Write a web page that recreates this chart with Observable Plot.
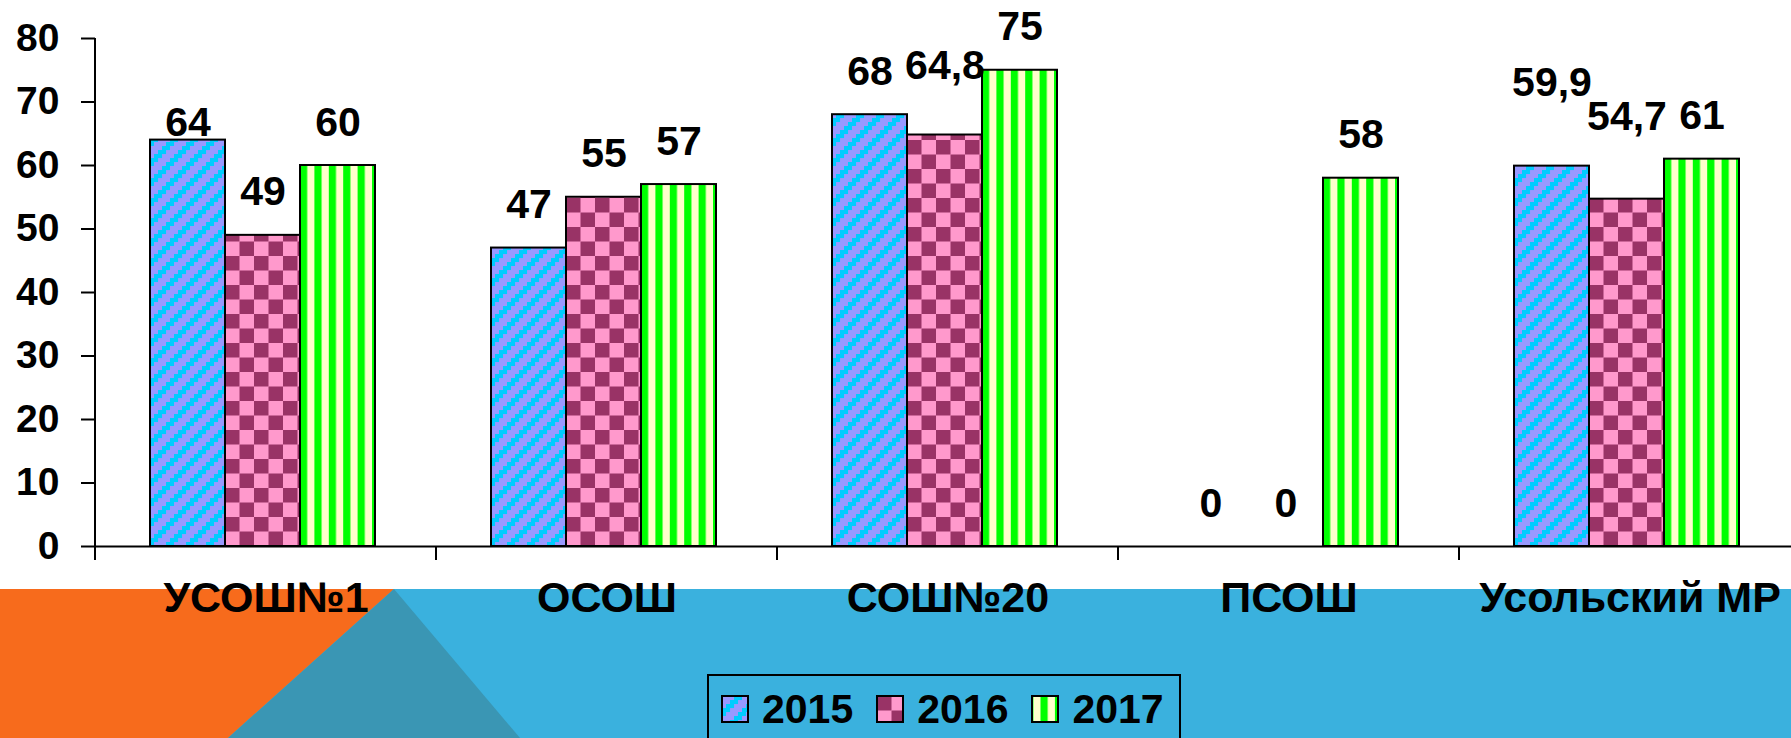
<!DOCTYPE html>
<html>
<head>
<meta charset="utf-8">
<script src="https://cdn.jsdelivr.net/npm/d3@7"></script>
<script src="https://cdn.jsdelivr.net/npm/@observablehq/plot@0.6"></script>
<style>
  html, body { margin: 0; padding: 0; background: #fff; overflow: hidden; }
  #page { position: relative; width: 1791px; height: 738px; overflow: hidden;
          font-family: "Liberation Sans", Arial, sans-serif; }
  .band { position: absolute; left: 0; top: 589px; width: 1791px; height: 149px; }
  #b-blue { background: #3AB1DE; }
  #b-orange { background: #F76B1C; clip-path: polygon(0 0, 394px 0, 228px 149px, 0 149px); }
  #b-teal { background: #3A96B4; clip-path: polygon(394px 0, 520px 149px, 228px 149px); }
  #chart { position: absolute; left: 0; top: 0; }
  #legend { position: absolute; left: 707px; top: 674px; width: 474px; height: 110px;
            border: 2px solid #000; box-sizing: border-box; display: flex;
            padding: 9px 0 0 12px; align-items: flex-start; }
  .item { display: flex; align-items: center; height: 48px; }
  .item svg { display: block; }
  .item span { font-size: 41px; font-weight: bold; line-height: 48px; color: #000; margin-left: 13px; }
  .item + .item { margin-left: 23px; }
  #chart g[aria-label="y-axis tick"] path, #chart .tick line { stroke-width: 2px; stroke: #000; }
</style>
</head>
<body>
<div id="page">
  <div class="band" id="b-blue"></div>
  <div class="band" id="b-orange"></div>
  <div class="band" id="b-teal"></div>
  <div id="chart"></div>
  <div id="legend"></div>
</div>
<script>
// ---- data ----
const categories = ["УСОШ№1", "ОСОШ", "СОШ№20", "ПСОШ", "Усольский МР"];
const years = ["2015", "2016", "2017"];
const values2015 = [64, 47, 68, 0, 59.9];
const values2016 = [49, 55, 64.8, 0, 54.7];
const values2017 = [60, 57, 75, 58, 61];
const yTicks = [0, 10, 20, 30, 40, 50, 60, 70, 80];

// ---- style / layout ----
const patternColors = {
  "2015": {bg: "#9999FF", fg: "#00CCFF"},
  "2016": {bg: "#FF99CC", fg: "#993366"},
  "2017": {bg: "#FFFFCC", fg: "#00FF00"}
};
const labelDy = -43;
// extra vertical nudges of a few value labels (px), as in the original layout
const labelNudge = {"УСОШ№1|2015": 26, "СОШ№20|2016": -26, "Усольский МР|2015": -40, "Усольский МР|2016": -39};

const seriesValues = {"2015": values2015, "2016": values2016, "2017": values2017};
const rows = categories.flatMap((cat, i) => years.map(year => ({cat, year, value: seriesValues[year][i]})));
const fmt = v => String(v).replace(".", ",");

const labelGroups = d3.group(rows, r => labelNudge[r.cat + "|" + r.year] ?? 0);
const labelMarks = Array.from(labelGroups, ([nudge, rs]) =>
  Plot.text(rs, {fx: "cat", x: "year", y: "value", text: d => fmt(d.value),
                 dy: labelDy + nudge, fontSize: 41, fontWeight: "bold"}));

const plot = Plot.plot({
  width: 1791,
  height: 674,
  marginLeft: 93,
  marginRight: -10,
  marginTop: 38,
  marginBottom: 128,
  style: {background: "none", overflow: "hidden", maxWidth: "none", color: "#000",
          fontFamily: "Liberation Sans, Arial, sans-serif", fontSize: "39px", fontWeight: "bold"},
  fx: {domain: categories, padding: 0, axis: null},
  x: {domain: years, paddingInner: 0, paddingOuter: 0.75, align: 0.474, axis: null},
  y: {domain: [0, 80], ticks: yTicks, tickSize: 14, tickPadding: 22, label: null, grid: false},
  color: {domain: years, range: years.map(y => `url(#pat${y})`)},
  marks: [
    Plot.barY(rows, {fx: "cat", x: "year", y: "value", fill: "year", stroke: "#000", strokeWidth: 2}),
    Plot.ruleY([0], {stroke: "#000", strokeWidth: 2}),
    ...labelMarks,
    Plot.text(categories, {fx: d => d, text: d => d, frameAnchor: "bottom", dy: 65,
                           fontSize: 43, fontWeight: "bold"})
  ]
});
document.getElementById("chart").appendChild(plot);

// ---- patterns ----
function fillPattern(p, year) {
  const c = patternColors[year];
  if (year === "2015") {
    const n = 5, u = 4, s = n * u;
    p.attr("width", s).attr("height", s);
    p.append("rect").attr("width", s).attr("height", s).attr("fill", c.bg);
    for (let r = 0; r < n; r++) {
      for (const k of [3, 4]) {
        const col = (k - r + n) % n;
        p.append("rect").attr("x", col * u).attr("y", r * u)
          .attr("width", u + 0.05).attr("height", u + 0.05).attr("fill", c.fg);
      }
    }
  } else if (year === "2016") {
    const q = 14.5;
    p.attr("width", 2 * q).attr("height", 2 * q);
    p.append("rect").attr("width", 2 * q).attr("height", 2 * q).attr("fill", c.bg);
    p.append("rect").attr("x", 0).attr("y", 0).attr("width", q).attr("height", q).attr("fill", c.fg);
    p.append("rect").attr("x", q).attr("y", q).attr("width", q).attr("height", q).attr("fill", c.fg);
  } else {
    const s = 14.4;
    p.attr("width", s).attr("height", s);
    p.append("rect").attr("width", s).attr("height", s).attr("fill", c.bg);
    p.append("rect").attr("width", s / 2).attr("height", s).attr("fill", c.fg);
  }
}

const svg = d3.select(plot);
const fxS = plot.scale("fx"), xS = plot.scale("x"), yS = plot.scale("y");
const y0 = yS.apply(0);
const defs = svg.insert("defs", ":first-child");
for (const year of years) {
  const p = defs.append("pattern").attr("id", `pat${year}`)
    .attr("patternUnits", "userSpaceOnUse")
    .attr("x", xS.apply(year)).attr("y", y0);
  fillPattern(p, year);
}

// y-axis line and category boundary ticks
const deco = svg.append("g").attr("stroke", "#000").attr("stroke-width", 2);
deco.append("line").attr("x1", fxS.apply(categories[0])).attr("x2", fxS.apply(categories[0]))
  .attr("y1", yS.apply(yTicks[yTicks.length - 1])).attr("y2", y0);
for (const cat of categories) {
  const x = fxS.apply(cat);
  deco.append("line").attr("x1", x).attr("x2", x).attr("y1", y0).attr("y2", y0 + 14);
}

// ---- legend ----
const legend = d3.select("#legend");
const legendOffset = {"2015": 1, "2016": 1, "2017": 9.5};
for (const year of years) {
  const item = legend.append("div").attr("class", "item");
  const s = item.append("svg").attr("width", 28).attr("height", 28);
  const p = s.append("defs").append("pattern").attr("id", `lpat${year}`)
    .attr("patternUnits", "userSpaceOnUse").attr("x", legendOffset[year]).attr("y", 1);
  fillPattern(p, year);
  s.append("rect").attr("x", 1).attr("y", 1).attr("width", 26).attr("height", 26)
    .attr("fill", `url(#lpat${year})`).attr("stroke", "#000").attr("stroke-width", 2);
  item.append("span").text(year);
}
</script>
</body>
</html>
